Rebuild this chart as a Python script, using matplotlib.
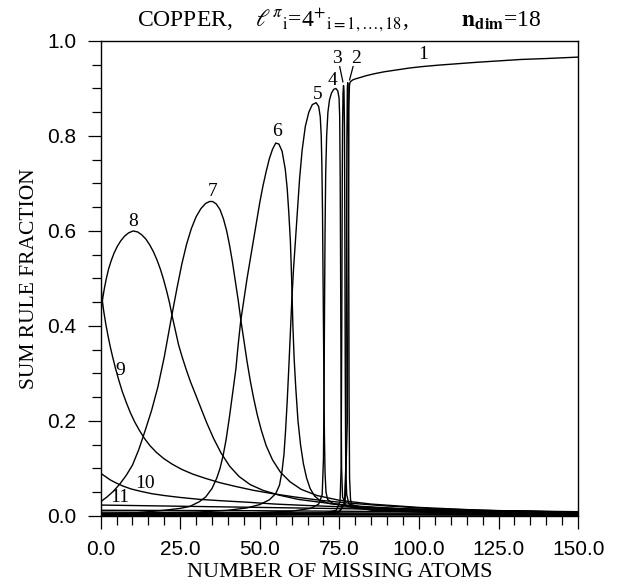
import matplotlib
matplotlib.use("Agg")
import matplotlib.pyplot as plt
from matplotlib.ticker import MultipleLocator, FormatStrFormatter

plt.rcParams['mathtext.fontset'] = 'stix'

# ---- data (sum-rule fraction vs number of missing atoms) ----
x1 = [0, 40, 60, 70, 75, 76.8, 77.5, 77.8, 78.0, 78.15, 78.3, 78.6, 79.2, 80, 81.5, 83.5, 86, 89, 93, 97, 101,
      106, 112, 118, 125, 132, 140, 150]
y1 = [0.002, 0.003, 0.004, 0.006, 0.01, 0.03, 0.2, 0.6, 0.86, 0.905, 0.912, 0.915, 0.918, 0.92, 0.923, 0.927,
      0.931, 0.935, 0.939, 0.943, 0.946, 0.949, 0.952, 0.955, 0.958, 0.961, 0.963, 0.966]

x2 = [0, 50, 70, 75, 76.6, 77.0, 77.2, 77.35, 77.5, 77.62, 77.75, 77.85, 77.95, 78.05, 78.2, 78.5, 79, 85, 100, 150]
y2 = [0.001, 0.002, 0.004, 0.008, 0.025, 0.1, 0.45, 0.78, 0.9, 0.912, 0.9, 0.8, 0.55, 0.25, 0.08, 0.035, 0.02,
      0.012, 0.008, 0.004]

x3 = [0, 50, 70, 74, 75.2, 75.55, 75.75, 75.9, 76.0, 76.15, 76.3, 76.45, 76.6, 76.72, 76.85, 77.0, 77.3, 78,
      85, 100, 150]
y3 = [0.002, 0.003, 0.006, 0.012, 0.03, 0.1, 0.4, 0.7, 0.82, 0.89, 0.906, 0.895, 0.82, 0.6, 0.3, 0.1, 0.045,
      0.025, 0.014, 0.01, 0.005]

x4 = [0, 40, 60, 66, 68.5, 69.6, 70.0, 70.2, 70.35, 70.5, 70.7, 71.0, 71.4, 71.9, 72.5, 73.2, 73.9, 74.5, 74.9,
      75.1, 75.25, 75.4, 75.55, 75.7, 76.0, 77, 80, 90, 110, 150]
y4 = [0.003, 0.005, 0.01, 0.016, 0.025, 0.045, 0.12, 0.28, 0.45, 0.6, 0.72, 0.80, 0.85, 0.876, 0.89, 0.898,
      0.90, 0.895, 0.88, 0.84, 0.72, 0.5, 0.25, 0.1, 0.04, 0.022, 0.016, 0.012, 0.009, 0.006]

x5 = [0, 30, 40, 46, 50, 53, 55, 56.2, 57, 57.6, 58.1, 58.6, 59.1, 59.6, 60.1, 60.6, 61, 61.8, 62.5, 63.3,
      64.3, 65.4, 66.5, 67.7, 68.5, 69, 69.3, 69.5, 69.7, 69.85, 70.0, 70.15, 70.3, 70.5, 70.8, 71.3, 73, 80,
      100, 150]
y5 = [0.004, 0.008, 0.012, 0.017, 0.024, 0.034, 0.047, 0.065, 0.095, 0.13, 0.18, 0.24, 0.31, 0.385, 0.46,
      0.52, 0.56, 0.64, 0.71, 0.77, 0.82, 0.85, 0.866, 0.87, 0.862, 0.84, 0.80, 0.74, 0.64, 0.52, 0.40, 0.28,
      0.17, 0.09, 0.05, 0.035, 0.026, 0.019, 0.013, 0.008]

x6 = [0, 10, 15, 20, 25, 28, 31, 33, 35, 36.5, 37.5, 38.5, 39.4, 40.5, 41.5, 42.5, 43.2, 44, 45, 46, 47, 48,
      49, 50, 51, 52, 53, 54, 55, 56, 57, 58, 58.6, 59.1, 59.6, 60.0, 60.4, 60.8, 61.3, 62, 62.8, 63.7, 64.7,
      65.8, 67.2, 69, 72, 78, 90, 110, 150]
y6 = [0.004, 0.006, 0.009, 0.012, 0.016, 0.02, 0.03, 0.04, 0.058, 0.08, 0.1, 0.128, 0.16, 0.21, 0.26, 0.31,
      0.36, 0.41, 0.455, 0.50, 0.54, 0.58, 0.62, 0.66, 0.695, 0.725, 0.752, 0.772, 0.785, 0.783, 0.768, 0.73,
      0.69, 0.64, 0.58, 0.50, 0.40, 0.33, 0.27, 0.2, 0.15, 0.11, 0.08, 0.058, 0.042, 0.032, 0.026, 0.021,
      0.016, 0.012, 0.008]

x7 = [0, 2, 4, 6, 8, 10, 12, 14, 16, 18, 20, 22.3, 24, 25.5, 27, 28.5, 30, 31.5, 33, 34.2, 35.2, 36.3, 37.5,
      38.6, 39.6, 40.5, 41.4, 42.3, 43.2, 44.1, 45, 46, 47, 48, 49.2, 50.5, 52, 54, 56.5, 59.5, 63, 68, 75, 85,
      100, 120, 150]
y7 = [0.030, 0.040, 0.052, 0.067, 0.085, 0.107, 0.14, 0.18, 0.222, 0.272, 0.335, 0.42, 0.48, 0.53, 0.572,
      0.605, 0.630, 0.647, 0.658, 0.662, 0.662, 0.657, 0.645, 0.625, 0.60, 0.57, 0.535, 0.495, 0.455, 0.41,
      0.37, 0.325, 0.285, 0.25, 0.213, 0.18, 0.148, 0.118, 0.092, 0.072, 0.056, 0.043, 0.033, 0.025, 0.018,
      0.012, 0.008]

x8 = [0, 0.3, 0.7, 1.2, 1.8, 2.5, 3.3, 4.2, 5.2, 6.3, 7.5, 8.8, 10.2, 11.6, 12.9, 14.2, 15.4, 16.6, 17.7, 18.8,
      19.8, 20.8, 21.7, 22.5, 23.5, 24.5, 25.6, 26.8, 28.2, 29.8, 31.5, 33.4, 35.5, 37.8, 40.5, 43.5, 47, 51,
      56, 62, 70, 80, 95, 115, 150]
y8 = [0.42, 0.44, 0.46, 0.48, 0.50, 0.52, 0.537, 0.553, 0.567, 0.579, 0.589, 0.596, 0.600, 0.598, 0.592,
      0.583, 0.571, 0.556, 0.539, 0.519, 0.497, 0.472, 0.447, 0.42, 0.39, 0.36, 0.335, 0.31, 0.283, 0.256,
      0.227, 0.195, 0.163, 0.133, 0.105, 0.083, 0.066, 0.054, 0.044, 0.035, 0.028, 0.021, 0.015, 0.010, 0.006]

x9 = [0, 0.5, 1, 1.6, 2.3, 3, 3.8, 4.7, 5.7, 6.8, 8, 9.3, 10.7, 12.2, 13.8, 15.5, 17.5, 19.8, 22.5, 25.5, 29,
      33, 37.5, 42.5, 48, 54, 61, 69, 78, 90, 105, 125, 150]
y9 = [0.49, 0.455, 0.43, 0.405, 0.38, 0.357, 0.334, 0.31, 0.286, 0.262, 0.24, 0.218, 0.198, 0.18, 0.163,
      0.148, 0.134, 0.121, 0.109, 0.098, 0.088, 0.079, 0.07, 0.062, 0.054, 0.047, 0.04, 0.033, 0.027, 0.021,
      0.015, 0.011, 0.007]

x10 = [0, 1.5, 3, 5, 7, 9.5, 12.5, 16, 20, 25, 31, 38, 46, 55, 65, 77, 90, 105, 125, 150]
y10 = [0.09, 0.083, 0.076, 0.069, 0.063, 0.057, 0.052, 0.047, 0.043, 0.039, 0.035, 0.032, 0.029, 0.025,
       0.022, 0.019, 0.016, 0.013, 0.011, 0.009]

x11 = [0, 20, 40, 60, 80, 100, 150]
y11 = [0.023, 0.021, 0.019, 0.017, 0.015, 0.012, 0.008]

x_rest = [0, 50, 100, 150]
y12 = [0.012, 0.011, 0.009, 0.006]
y13 = [0.008, 0.007, 0.006, 0.004]
y14 = [0.005, 0.005, 0.004, 0.003]
y15 = [0.003, 0.003, 0.003, 0.002]
y16 = [0.002, 0.002, 0.002, 0.001]

curves = [(x1, y1), (x2, y2), (x3, y3), (x4, y4), (x5, y5), (x6, y6), (x7, y7), (x8, y8), (x9, y9),
          (x10, y10), (x11, y11), (x_rest, y12), (x_rest, y13), (x_rest, y14), (x_rest, y15), (x_rest, y16)]

curve_labels = ["1", "2", "3", "4", "5", "6", "7", "8", "9", "10", "11"]
label_x = [101.4, 80.2, 74.2, 72.8, 68.1, 55.3, 35.2, 10.2, 6.1, 13.9, 6.1]
label_y = [0.971, 0.964, 0.964, 0.916, 0.888, 0.81, 0.683, 0.62, 0.307, 0.069, 0.038]

x_ticks = [0, 25, 50, 75, 100, 125, 150]
y_ticks = [0.0, 0.2, 0.4, 0.6, 0.8, 1.0]

# ---- figure ----
fig = plt.figure(figsize=(6.25, 5.85), dpi=100)
ax = fig.add_axes([0.161, 0.118, 0.764, 0.812])

for xs, ys in curves:
    ax.plot(xs, ys, color='black', lw=1.0, solid_joinstyle='round')

serif = ['Liberation Serif', 'DejaVu Serif']
for t, lx, ly in zip(curve_labels, label_x, label_y):
    ax.text(lx, ly, t, fontsize=14, family=serif, ha='center', va='center')

# leader lines for labels 2 and 3
ax.plot([79.3, 78.2], [0.946, 0.918], color='black', lw=0.9)
ax.plot([75.1, 76.1], [0.946, 0.914], color='black', lw=0.9)

ax.set_xlim(0, 150)
ax.set_ylim(0, 1.0)
ax.set_xticks(x_ticks)
ax.set_yticks(y_ticks)
ax.xaxis.set_minor_locator(MultipleLocator(5))
ax.yaxis.set_minor_locator(MultipleLocator(0.05))
ax.xaxis.set_major_formatter(FormatStrFormatter('%.1f'))
ax.yaxis.set_major_formatter(FormatStrFormatter('%.1f'))
ax.tick_params(which='major', direction='out', length=9.5, width=0.9, pad=8,
               labelsize=15)
ax.tick_params(which='minor', direction='out', length=6.5, width=0.9)
for lab in ax.get_xticklabels() + ax.get_yticklabels():
    lab.set_family(['Liberation Sans', 'DejaVu Sans'])
for s in ax.spines.values():
    s.set_linewidth(1.0)

ax.set_xlabel('NUMBER OF MISSING ATOMS', fontsize=16, family=serif, labelpad=3)
ax.set_ylabel('SUM RULE FRACTION', fontsize=15.5, family=serif, labelpad=6)

title = (r"COPPER,    $\ell^{\pi}{}_{\mathrm{i}}$=4$^{+}{}_{\mathrm{i=1,\ldots,18}}$,"
         r"         $\mathbf{n}_{\mathbf{dim}}$=18")
ax.set_title(title, fontsize=17, family=serif, pad=11)

fig.savefig('out.png', dpi=100)
